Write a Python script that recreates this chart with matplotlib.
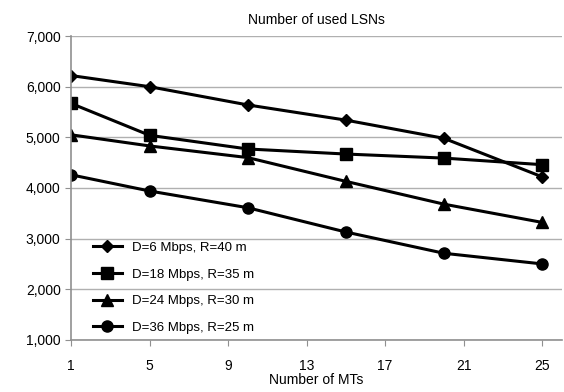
import matplotlib
matplotlib.use("Agg")
import matplotlib.pyplot as plt

plt.rcParams["font.family"] = ["Liberation Sans", "DejaVu Sans"]

# Werte
mts = [1, 5, 10, 15, 20, 25]
d6 = [6220, 6000, 5640, 5340, 4980, 4220]
d18 = [5670, 5040, 4770, 4670, 4590, 4460]
d24 = [5050, 4830, 4600, 4130, 3680, 3320]
d36 = [4260, 3940, 3610, 3130, 2710, 2500]
labels = ["D=6 Mbps, R=40 m", "D=18 Mbps, R=35 m",
          "D=24 Mbps, R=30 m", "D=36 Mbps, R=25 m"]
xticks = [1, 5, 9, 13, 17, 21, 25]
yticks = [1000, 2000, 3000, 4000, 5000, 6000, 7000]

fig = plt.figure(figsize=(5.64, 3.92), dpi=100)
ax = fig.add_axes([0.126, 0.133, 0.87, 0.775])

series = [d6, d18, d24, d36]
markers = ["D", "s", "^", "o"]
msizes = [6, 8, 8, 8]
for ys, m, ms, lab in zip(series, markers, msizes, labels):
    ax.plot(mts, ys, color="black", lw=2.2, marker=m, ms=ms, label=lab)

ax.set_xlim(1, 26)
ax.set_ylim(1000, 7000)
ax.set_xticks(xticks)
ax.set_yticks(yticks)
ax.set_yticklabels([f"{v:,}" for v in yticks])
ax.grid(axis="y", color="#b0b0b0", lw=1)
ax.set_axisbelow(True)
for s in ["top", "right"]:
    ax.spines[s].set_visible(False)
for s in ["left", "bottom"]:
    ax.spines[s].set_color("#909090")
    ax.spines[s].set_linewidth(1.2)
ax.tick_params(colors="#909090", labelcolor="black", labelsize=10, length=4)
ax.tick_params(axis="x", pad=10)

ax.set_title("Number of used LSNs", fontsize=10, pad=9)
ax.set_xlabel("Number of MTs", fontsize=10, labelpad=0)

ax.legend(loc="lower left", bbox_to_anchor=(0.02, -0.02), frameon=False,
          fontsize=9.5, handlelength=2.2, labelspacing=1.1)

fig.savefig("out.png", dpi=100)
